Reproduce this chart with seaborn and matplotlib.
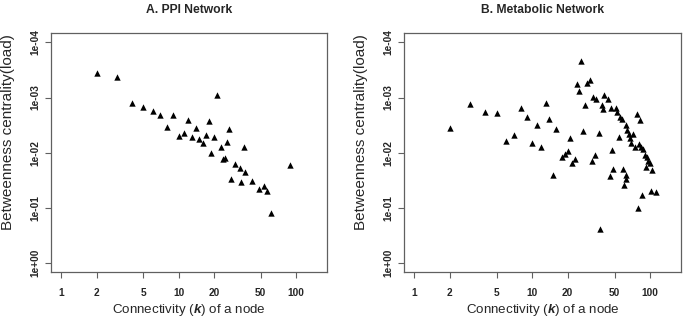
import matplotlib
matplotlib.use("Agg")
import matplotlib.pyplot as plt
import seaborn as sns
import pandas as pd
from matplotlib.ticker import FixedLocator, NullLocator

# ---- data ----
ppi_k = [2, 3, 4, 5, 6, 7, 9, 8, 12, 18, 21, 14, 27, 10, 11, 13, 15, 17, 16, 20,
         26, 23, 36, 19, 24, 25, 30, 33, 37, 28, 34, 42, 48, 53, 57, 61, 89]
ppi_b = [3.56e-4, 4.2e-4, 1.26e-3, 1.51e-3, 1.76e-3, 2.07e-3, 2.1e-3, 3.42e-3, 2.56e-3, 2.67e-3,
         8.9e-4, 3.57e-3, 3.77e-3, 4.97e-3, 4.4e-3, 5.13e-3, 5.57e-3, 4.77e-3, 6.59e-3, 5.2e-3,
         6.49e-3, 7.78e-3, 7.89e-3, 1.01e-2, 1.3e-2, 1.25e-2, 1.62e-2, 1.87e-2, 2.24e-2, 2.96e-2,
         3.4e-2, 3.26e-2, 4.49e-2, 3.96e-2, 4.94e-2, 0.122, 1.67e-2]

met_k = [2, 3, 4, 5, 6, 7, 8, 9, 10, 11, 12, 13, 14, 15, 16, 18, 19, 20, 21, 22,
         23, 24, 25, 26, 27, 28, 29, 31, 32, 34, 33, 35, 37, 38, 39, 40, 41, 44, 46, 48,
         47, 49, 51, 53, 55, 56, 58, 59, 60, 62, 63, 62, 64, 66, 68, 69, 72, 75, 77, 79,
         80, 82, 84, 85, 88, 90, 92, 94, 97, 100, 101, 105, 112]
met_b = [3.52e-3, 1.31e-3, 1.83e-3, 1.88e-3, 6.07e-3, 4.77e-3, 1.55e-3, 2.25e-3, 6.76e-3, 3.15e-3,
         7.78e-3, 1.24e-3, 2.48e-3, 2.51e-2, 3.72e-3, 1.18e-2, 1.06e-2, 9.2e-3, 5.35e-3, 1.52e-2,
         1.32e-2, 5.69e-4, 7.5e-4, 2.15e-4, 4.09e-3, 1.35e-3, 5.4e-4, 4.82e-4, 1.43e-2, 1.1e-2,
         9.9e-4, 1.08e-3, 4.35e-3, 0.244, 1.35e-3, 1.61e-3, 8.9e-4, 1.05e-3, 2.64e-2, 8.9e-3,
         1.57e-3, 2.0e-2, 1.55e-3, 1.81e-3, 5.26e-3, 2.29e-3, 2.42e-3, 2.0e-2, 3.8e-2, 2.54e-2,
         2.99e-2, 3.15e-3, 3.88e-3, 4.58e-3, 5.42e-3, 6.76e-3, 4.65e-3, 7.78e-3, 1.99e-3, 0.1016,
         6.95e-3, 2.56e-3, 7.98e-3, 5.77e-2, 8.47e-3, 1.1e-2, 1.8e-2, 1.21e-2, 1.41e-2, 1.56e-2,
         4.87e-2, 2.05e-2, 5.1e-2]

titles = ["A. PPI Network", "B. Metabolic Network"]
x_ticks = [1, 2, 5, 10, 20, 50, 100]
x_ticklabels = ["1", "2", "5", "10", "20", "50", "100"]
y_ticks = [1e-4, 1e-3, 1e-2, 1e-1, 1e0]
y_ticklabels = ["1e-04", "1e-03", "1e-02", "1e-01", "1e+00"]
xlabel = r"Connectivity ($\mathbf{k}$) of a node"
ylabel = "Betweenness centrality(load)"

# ---- style ----
sns.set_style("white")
plt.rcParams["font.family"] = ["Liberation Sans", "DejaVu Sans"]
plt.rcParams["mathtext.fontset"] = "custom"
plt.rcParams["mathtext.rm"] = "Liberation Sans"
plt.rcParams["mathtext.bf"] = "Liberation Sans:bold:italic"

W, H = 685, 325
fig = plt.figure(figsize=(W / 100, H / 100), dpi=100)

boxes = [(51.0, 327.0), (404.0, 681.0)]
xlim = (10 ** -0.087, 10 ** 2.263)
ylim = (10 ** 0.166, 10 ** -4.166)
top_px, bot_px = 33.3, 272.0
datasets = [(ppi_k, ppi_b), (met_k, met_b)]
spine_col = "#606060"

for i, ((l, r), (ks, bs)) in enumerate(zip(boxes, datasets)):
    ax = fig.add_axes([l / W, 1 - bot_px / H, (r - l) / W, (bot_px - top_px) / H])
    df = pd.DataFrame({"k": ks, "b": bs})
    sns.scatterplot(data=df, x="k", y="b", marker="^", color="black", s=21,
                    linewidth=0, ax=ax)
    ax.set_xscale("log")
    ax.set_yscale("log")
    ax.set_xlim(*xlim)
    ax.set_ylim(*ylim)
    ax.xaxis.set_major_locator(FixedLocator(x_ticks))
    ax.xaxis.set_minor_locator(NullLocator())
    ax.yaxis.set_major_locator(FixedLocator(y_ticks))
    ax.yaxis.set_minor_locator(NullLocator())
    ax.set_xticklabels(x_ticklabels, fontsize=7.3, fontweight="bold")
    ax.set_yticklabels(y_ticklabels, fontsize=7.3, fontweight="bold",
                       rotation=90, va="center")
    ax.tick_params(axis="both", which="major", direction="out", length=4.3,
                   width=0.8, color=spine_col, bottom=True, left=True)
    ax.tick_params(axis="x", pad=7)
    ax.tick_params(axis="y", pad=3.2)
    for sp in ax.spines.values():
        sp.set_color(spine_col)
        sp.set_linewidth(0.9)
    ax.set_xlabel(xlabel, fontsize=9.6)
    ax.set_ylabel(ylabel, fontsize=11)
    ax.xaxis.set_label_coords(0.5, -0.125)
    ax.yaxis.set_label_coords(-0.13, 0.585)
    ax.set_title(titles[i], fontsize=8.7, fontweight="bold", pad=14.5)

fig.savefig("out.png", dpi=100)
